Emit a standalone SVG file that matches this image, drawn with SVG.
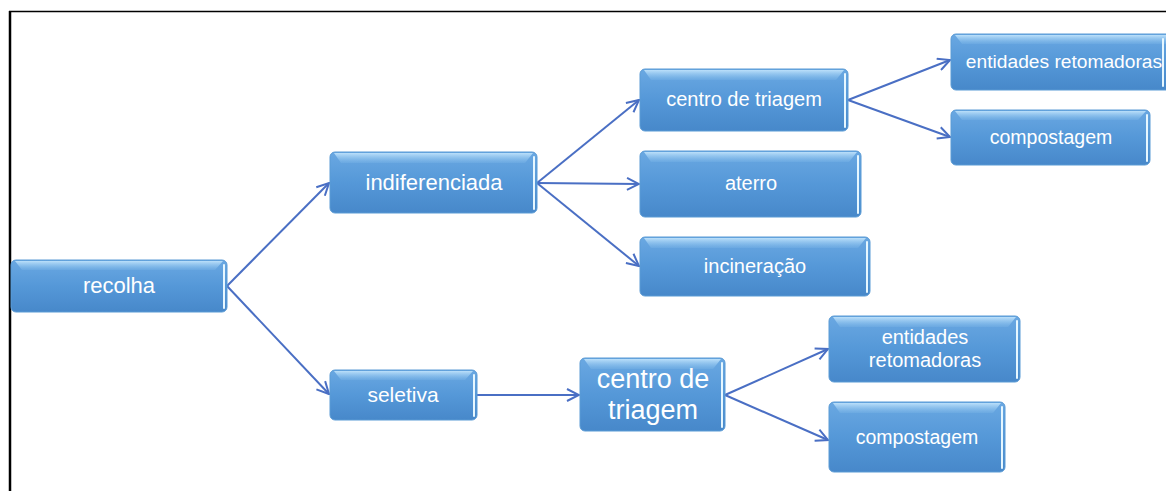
<svg xmlns="http://www.w3.org/2000/svg" width="1166" height="491" viewBox="0 0 1166 491">
<style>
.box{fill:url(#bg);stroke:#5b9bd5;stroke-width:1}
.bev{fill:url(#top)}
.rh{stroke:#e6f7ff;stroke-width:2;fill:none;stroke-linecap:round}
.t{font-family:"Liberation Sans",Arial,sans-serif;fill:#ffffff;text-anchor:middle}
.c{stroke:#4a6fc4;stroke-width:2;fill:none;marker-end:url(#ah)}
</style>
<defs>
<linearGradient id="bg" x1="0" y1="0" x2="0" y2="1">
<stop offset="0" stop-color="#6aa8e2"/>
<stop offset="0.5" stop-color="#5598d8"/>
<stop offset="1" stop-color="#4788ca"/>
</linearGradient>
<linearGradient id="top" x1="0" y1="0" x2="0" y2="1">
<stop offset="0" stop-color="#bfe2fb" stop-opacity="0.95"/>
<stop offset="1" stop-color="#8cc3ee" stop-opacity="0.2"/>
</linearGradient>
<marker id="ah" viewBox="0 0 14 14" refX="13" refY="7" markerWidth="14" markerHeight="14" markerUnits="userSpaceOnUse" orient="auto">
<path d="M1,1 L13,7 L1,13" fill="none" stroke="#4a6fc4" stroke-width="2"/>
</marker>
</defs>
<rect x="0" y="0" width="1166" height="491" fill="#ffffff"/>
<g id="frame">
<line x1="9" y1="11.5" x2="1166" y2="11.5" stroke="#000" stroke-width="1.5"/>
<line x1="10" y1="11" x2="10" y2="491" stroke="#000" stroke-width="2.5"/>
</g>
<g id="connectors">
<path class="c" d="M227,286 L329,183"/>
<path class="c" d="M227,286 L329,394"/>
<path class="c" d="M537,183 L639,100"/>
<path class="c" d="M537,183 L639,184"/>
<path class="c" d="M537,183 L639,266"/>
<path class="c" d="M477,395 L579,395"/>
<path class="c" d="M848,100 L950,60"/>
<path class="c" d="M848,100 L950,137"/>
<path class="c" d="M725,395 L828,349"/>
<path class="c" d="M725,395 L828,440"/>
</g>
<g id="n-recolha">
<rect class="box" x="11" y="260" width="216" height="52" rx="5"/>
<path class="bev" d="M15,261 L223,261 L215,270 L22,270 Z"/>
<line class="rh" x1="224" y1="265" x2="224" y2="308"/>
<text class="t" x="119" y="293" font-size="22">recolha</text>
</g>
<g id="n-indiferenciada">
<rect class="box" x="330" y="152" width="207" height="61" rx="5"/>
<path class="bev" d="M334,153 L533,153 L525,163 L341,163 Z"/>
<line class="rh" x1="534" y1="157" x2="534" y2="209"/>
<text class="t" x="434" y="190" font-size="22">indiferenciada</text>
</g>
<g id="n-seletiva">
<rect class="box" x="330" y="370" width="147" height="50" rx="5"/>
<path class="bev" d="M334,371 L473,371 L465,380 L341,380 Z"/>
<line class="rh" x1="474" y1="375" x2="474" y2="416"/>
<text class="t" x="403" y="402" font-size="21">seletiva</text>
</g>
<g id="n-centro1">
<rect class="box" x="640" y="69" width="208" height="62" rx="5"/>
<path class="bev" d="M644,70 L844,70 L836,80 L651,80 Z"/>
<line class="rh" x1="845" y1="74" x2="845" y2="127"/>
<text class="t" x="744" y="106" font-size="20">centro de triagem</text>
</g>
<g id="n-aterro">
<rect class="box" x="640" y="151" width="221" height="66" rx="5"/>
<path class="bev" d="M644,152 L857,152 L849,162 L651,162 Z"/>
<line class="rh" x1="858" y1="156" x2="858" y2="213"/>
<text class="t" x="751" y="190" font-size="20">aterro</text>
</g>
<g id="n-incineracao">
<rect class="box" x="640" y="237" width="230" height="59" rx="5"/>
<path class="bev" d="M644,238 L866,238 L858,248 L651,248 Z"/>
<line class="rh" x1="867" y1="242" x2="867" y2="292"/>
<text class="t" x="755" y="273" font-size="20">incineração</text>
</g>
<g id="n-entidades1">
<rect class="box" x="951" y="34" width="220" height="56" rx="5"/>
<path class="bev" d="M955,35 L1166,35 L1166,44 L962,44 Z"/>
<line class="rh" x1="1163" y1="39" x2="1163" y2="86"/>
<text class="t" x="1064" y="68" font-size="19.2">entidades retomadoras</text>
</g>
<g id="n-compostagem1">
<rect class="box" x="951" y="110" width="199" height="55" rx="5"/>
<path class="bev" d="M955,111 L1146,111 L1138,120 L962,120 Z"/>
<line class="rh" x1="1147" y1="115" x2="1147" y2="161"/>
<text class="t" x="1051" y="144" font-size="19.5">compostagem</text>
</g>
<g id="n-centro2">
<rect class="box" x="580" y="358" width="145" height="73" rx="5"/>
<path class="bev" d="M584,359 L721,359 L713,369 L591,369 Z"/>
<line class="rh" x1="722" y1="363" x2="722" y2="427"/>
<text class="t" x="653" y="388" font-size="27">centro de</text>
<text class="t" x="653" y="419" font-size="27">triagem</text>
</g>
<g id="n-entidades2">
<rect class="box" x="829" y="316" width="191" height="66" rx="5"/>
<path class="bev" d="M833,317 L1016,317 L1008,327 L840,327 Z"/>
<line class="rh" x1="1017" y1="321" x2="1017" y2="378"/>
<text class="t" x="925" y="344" font-size="20">entidades</text>
<text class="t" x="925" y="367" font-size="20">retomadoras</text>
</g>
<g id="n-compostagem2">
<rect class="box" x="829" y="402" width="176" height="70" rx="5"/>
<path class="bev" d="M833,403 L1001,403 L993,413 L840,413 Z"/>
<line class="rh" x1="1002" y1="407" x2="1002" y2="468"/>
<text class="t" x="917" y="444" font-size="19.5">compostagem</text>
</g>
</svg>
